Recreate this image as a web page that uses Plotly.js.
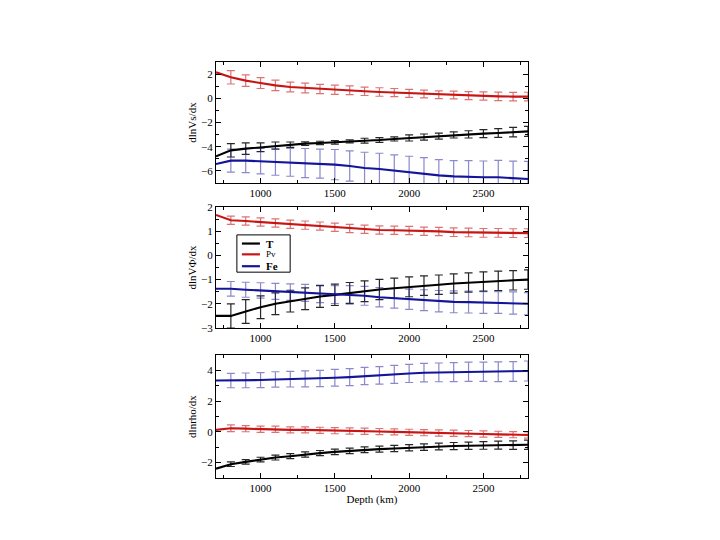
<!DOCTYPE html>
<html>
<head>
<meta charset="utf-8">
<script src="https://cdn.plot.ly/plotly-3.0.1.min.js"></script>
<style>html,body{margin:0;padding:0;background:#fff;}#chart{width:720px;height:540px;}</style>
</head>
<body>
<div id="chart"></div>
<script>
// Depth (km)
const depth = [700,800,900,1000,1100,1200,1300,1400,1500,1600,1700,1800,1900,2000,2100,2200,2300,2400,2500,2600,2700,2800];

// Panel 1: dlnVs/dx
const vsT   = [-4.80,-4.30,-4.16,-4.05,-3.91,-3.83,-3.75,-3.69,-3.64,-3.56,-3.50,-3.45,-3.36,-3.28,-3.20,-3.12,-3.03,-2.98,-2.92,-2.87,-2.79,-2.73];
const vsTErr = [0.55,0.47,0.36,0.30,0.22,0.15,0.14,0.14,0.12,0.20,0.20,0.17,0.25,0.25,0.25,0.25,0.30,0.33,0.36,0.39,0.41];
const vsPv  = [2.15,1.73,1.46,1.26,1.07,0.93,0.85,0.77,0.71,0.66,0.58,0.52,0.47,0.41,0.36,0.30,0.27,0.22,0.19,0.16,0.14,0.14];
const vsPvErr = [0.55,0.48,0.45,0.43,0.40,0.40,0.38,0.38,0.36,0.35,0.35,0.34,0.33,0.32,0.32,0.32,0.33,0.34,0.35,0.35,0.36];
const vsFe  = [-5.43,-5.15,-5.15,-5.20,-5.26,-5.29,-5.35,-5.40,-5.48,-5.60,-5.76,-5.84,-5.98,-6.09,-6.20,-6.37,-6.45,-6.50,-6.53,-6.53,-6.59,-6.67];
const vsFeErr = [0.95,1.00,1.05,1.10,1.15,1.20,1.20,1.25,1.25,1.30,1.30,1.30,1.30,1.30,1.30,1.30,1.35,1.35,1.40,1.40,1.45];

// Panel 2: dlnVΦ/dx
const vbT   = [-2.50,-2.50,-2.32,-2.14,-2.00,-1.89,-1.79,-1.70,-1.63,-1.55,-1.48,-1.41,-1.36,-1.30,-1.25,-1.21,-1.16,-1.12,-1.08,-1.05,-1.03,-1.00];
const vbTErr = [0.50,0.49,0.47,0.45,0.45,0.45,0.45,0.44,0.43,0.43,0.42,0.42,0.41,0.40,0.40,0.40,0.40,0.40,0.40,0.40,0.40];
const vbPv  = [1.67,1.45,1.42,1.38,1.34,1.29,1.25,1.21,1.16,1.11,1.08,1.05,1.04,1.03,1.00,0.99,0.96,0.95,0.93,0.93,0.92,0.92];
const vbPvErr = [0.17,0.17,0.17,0.17,0.17,0.17,0.17,0.17,0.17,0.17,0.17,0.17,0.17,0.17,0.17,0.18,0.18,0.18,0.18,0.18,0.18];
const vbFe  = [-1.38,-1.38,-1.42,-1.45,-1.49,-1.52,-1.55,-1.59,-1.62,-1.63,-1.67,-1.73,-1.77,-1.81,-1.85,-1.89,-1.92,-1.93,-1.95,-1.95,-1.97,-2.00];
const vbFeErr = [0.30,0.31,0.32,0.33,0.34,0.35,0.36,0.37,0.38,0.39,0.40,0.41,0.42,0.43,0.44,0.45,0.45,0.45,0.45,0.46,0.46];

// Panel 3: dlnrho/dx
const rhoT  = [-2.39,-2.10,-1.95,-1.80,-1.67,-1.58,-1.47,-1.38,-1.30,-1.23,-1.16,-1.12,-1.08,-1.03,-0.99,-0.95,-0.92,-0.90,-0.88,-0.86,-0.86,-0.84];
const rhoTErr = [0.15,0.15,0.15,0.16,0.16,0.17,0.17,0.18,0.18,0.19,0.19,0.20,0.20,0.21,0.22,0.23,0.24,0.25,0.26,0.28,0.30];
const rhoPv = [0.13,0.24,0.21,0.17,0.17,0.13,0.13,0.10,0.08,0.06,0.04,0.02,0.00,-0.03,-0.05,-0.07,-0.09,-0.11,-0.14,-0.16,-0.18,-0.20];
const rhoPvErr = [0.22,0.20,0.20,0.20,0.20,0.20,0.20,0.20,0.20,0.20,0.20,0.20,0.20,0.20,0.20,0.20,0.20,0.20,0.20,0.20,0.20];
const rhoFe = [3.34,3.34,3.35,3.37,3.41,3.43,3.45,3.47,3.52,3.56,3.63,3.67,3.74,3.80,3.85,3.87,3.89,3.91,3.91,3.91,3.93,3.96];
const rhoFeErr = [0.47,0.48,0.49,0.50,0.51,0.52,0.53,0.54,0.55,0.56,0.57,0.58,0.59,0.60,0.61,0.62,0.63,0.63,0.64,0.64,0.65];

const seriesNames = ['T','Pv','Fe'];
const legendLabels = ['<b>T</b>','Pv','<b>Fe</b>'];
const lineColors = ['#000000','#c81414','#14149a'];
const errColors  = ['rgba(0,0,0,0.85)','rgba(200,40,40,0.65)','rgba(40,40,160,0.55)'];

const panels = [
  {vals:[vsT,vsPv,vsFe],  errs:[vsTErr,vsPvErr,vsFeErr],  xa:'x',  ya:'y'},
  {vals:[vbT,vbPv,vbFe],  errs:[vbTErr,vbPvErr,vbFeErr],  xa:'x2', ya:'y2'},
  {vals:[rhoT,rhoPv,rhoFe], errs:[rhoTErr,rhoPvErr,rhoFeErr], xa:'x3', ya:'y3'}
];

const traces = [];
panels.forEach((p, pi) => {
  p.vals.forEach((v, si) => {
    traces.push({
      x: depth.slice(1), y: v.slice(1), xaxis: p.xa, yaxis: p.ya,
      mode: 'none', type: 'scatter', showlegend: false, hoverinfo: 'skip',
      error_y: {type:'data', array: p.errs[si], visible:true, color: errColors[si], thickness: 1.2, width: 4}
    });
  });
  p.vals.forEach((v, si) => {
    traces.push({
      x: depth, y: v, xaxis: p.xa, yaxis: p.ya,
      mode: 'lines', type: 'scatter', name: seriesNames[si],
      line: {color: lineColors[si], width: 2.1},
      showlegend: false
    });
  });
});

const font = {family: 'Liberation Serif, DejaVu Serif, serif', size: 11, color: '#000'};
function xAx(anchor, title) {
  const a = {
    domain: [0.3, 0.7333], anchor: anchor, range: [700, 2800],
    showline: true, linecolor: '#000', linewidth: 1, mirror: 'ticks',
    ticks: 'inside', ticklen: 5, tickcolor: '#000', tick0: 0, dtick: 500,
    minor: {ticks: 'inside', ticklen: 3, dtick: 250, tickcolor: '#000'},
    showgrid: false, zeroline: false, tickfont: font
  };
  if (title) a.title = {text: title, font: font, standoff: 2};
  return a;
}
function yAx(anchor, dom, range, dtick, title) {
  return {
    domain: dom, anchor: anchor, range: range,
    showline: true, linecolor: '#000', linewidth: 1, mirror: 'ticks',
    ticks: 'inside', ticklen: 5, tickcolor: '#000', tick0: 0, dtick: dtick,
    minor: {ticks: 'inside', ticklen: 3, dtick: dtick/2, tickcolor: '#000'},
    showgrid: false, zeroline: false, tickfont: font,
    title: {text: title, font: font, standoff: 2}
  };
}

// Hand-built legend box inside panel 2 (paper coordinates)
const legBox = {x0: 0.329, x1: 0.403, y0: 0.496, y1: 0.565};
const legRowsY = [0.549, 0.529, 0.507];
const shapes = [{type:'rect', xref:'paper', yref:'paper', x0: legBox.x0, x1: legBox.x1, y0: legBox.y0, y1: legBox.y1,
  line:{color:'#000', width:1}, fillcolor:'#fff', layer:'above'}];
const annotations = [];
seriesNames.forEach((n, i) => {
  shapes.push({type:'line', xref:'paper', yref:'paper', x0: 0.336, x1: 0.361, y0: legRowsY[i], y1: legRowsY[i],
    line:{color: lineColors[i], width: 2.2}, layer:'above'});
  annotations.push({xref:'paper', yref:'paper', x: 0.367, y: legRowsY[i], xanchor:'left', yanchor:'middle',
    text: legendLabels[i], showarrow:false, font:{family: font.family, size: i === 1 ? 9 : 11, color:'#000'}});
});

const layout = {
  width: 720, height: 540,
  margin: {l: 0, r: 0, t: 0, b: 0},
  paper_bgcolor: '#fff', plot_bgcolor: '#fff',
  font: font,
  showlegend: false,
  shapes: shapes,
  annotations: annotations,
  xaxis:  xAx('y'),
  xaxis2: xAx('y2'),
  xaxis3: xAx('y3', 'Depth (km)'),
  yaxis:  yAx('x',  [0.6611, 0.8852], [-7, 3], 2, 'dlnVs/dx'),
  yaxis2: yAx('x2', [0.3926, 0.6167], [-3, 2], 1, 'dlnVΦ/dx'),
  yaxis3: yAx('x3', [0.1148, 0.3426], [-3, 5], 2, 'dlnrho/dx')
};

Plotly.newPlot('chart', traces, layout, {displayModeBar: false, staticPlot: true});
</script>
</body>
</html>
